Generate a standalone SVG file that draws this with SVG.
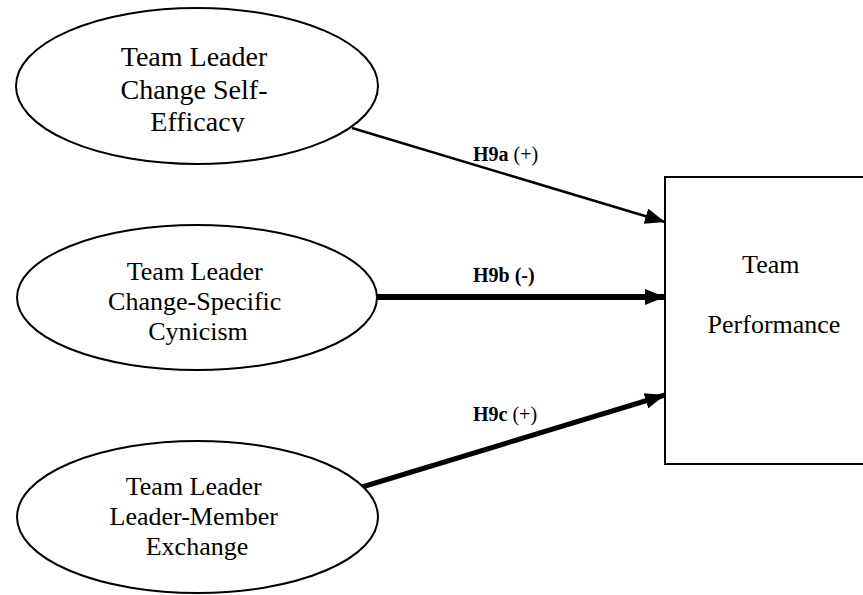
<svg xmlns="http://www.w3.org/2000/svg" width="863" height="595" viewBox="0 0 863 595">
  <style>
    .node { fill: #ffffff; stroke: #000000; stroke-width: 2; }
    .label { font-family: "Liberation Serif", "Times New Roman", serif; fill: #000000; text-anchor: middle; }
    .hyp { font-family: "Liberation Serif", "Times New Roman", serif; font-size: 20px; fill: #000000; }
    .b { font-weight: bold; }
    .edge { stroke: #000000; fill: none; }
  </style>
  <defs>
    <marker id="arrow" viewBox="0 0 20 16" refX="20" refY="8" markerWidth="20" markerHeight="16" markerUnits="userSpaceOnUse" orient="auto">
      <path d="M0,0 L20,8 L0,16 Z" fill="#000000"/>
    </marker>
    <clipPath id="clip-se">
      <rect x="0" y="0" width="400" height="132"/>
    </clipPath>
  </defs>

  <rect width="863" height="595" fill="#ffffff"/>

  <!-- connectors -->
  <g id="connectors">
    <line class="edge" x1="352" y1="128" x2="665" y2="222" stroke-width="2.5" marker-end="url(#arrow)"/>
    <line class="edge" x1="377" y1="297" x2="665" y2="297" stroke-width="6" marker-end="url(#arrow)"/>
    <line class="edge" x1="362" y1="487" x2="665" y2="395" stroke-width="5" marker-end="url(#arrow)"/>
    <text class="hyp" x="473" y="161"><tspan class="b">H9a</tspan> (+)</text>
    <text class="hyp b" x="473" y="282">H9b (-)</text>
    <text class="hyp" x="473" y="421"><tspan class="b">H9c</tspan> (+)</text>
  </g>

  <!-- Team Leader Change Self-Efficacy -->
  <g id="self-efficacy">
    <ellipse class="node" cx="197" cy="86" rx="181" ry="78"/>
    <g clip-path="url(#clip-se)">
      <text class="label" font-size="28" x="197.5">
        <tspan x="197.5" y="66">Team Leader</tspan>
        <tspan x="197.5" y="98.5">Change Self-</tspan>
        <tspan x="197.5" y="130.5">Efficacy</tspan>
      </text>
    </g>
  </g>

  <!-- Team Leader Change-Specific Cynicism -->
  <g id="cynicism">
    <ellipse class="node" cx="197" cy="297.5" rx="180" ry="72.5"/>
    <text class="label" font-size="26">
      <tspan x="198" y="280">Team Leader</tspan>
      <tspan x="198" y="310">Change-Specific</tspan>
      <tspan x="198" y="340">Cynicism</tspan>
    </text>
  </g>

  <!-- Team Leader Leader-Member Exchange -->
  <g id="lmx">
    <ellipse class="node" cx="197.5" cy="517" rx="180.5" ry="76"/>
    <text class="label" font-size="26">
      <tspan x="197" y="495">Team Leader</tspan>
      <tspan x="197" y="525">Leader-Member</tspan>
      <tspan x="197" y="555">Exchange</tspan>
    </text>
  </g>

  <!-- Team Performance -->
  <g id="team-performance">
    <rect class="node" x="665" y="177" width="215" height="287"/>
    <text class="label" font-size="26">
      <tspan x="774" y="273">Team</tspan>
      <tspan x="774" y="333">Performance</tspan>
    </text>
  </g>
</svg>
